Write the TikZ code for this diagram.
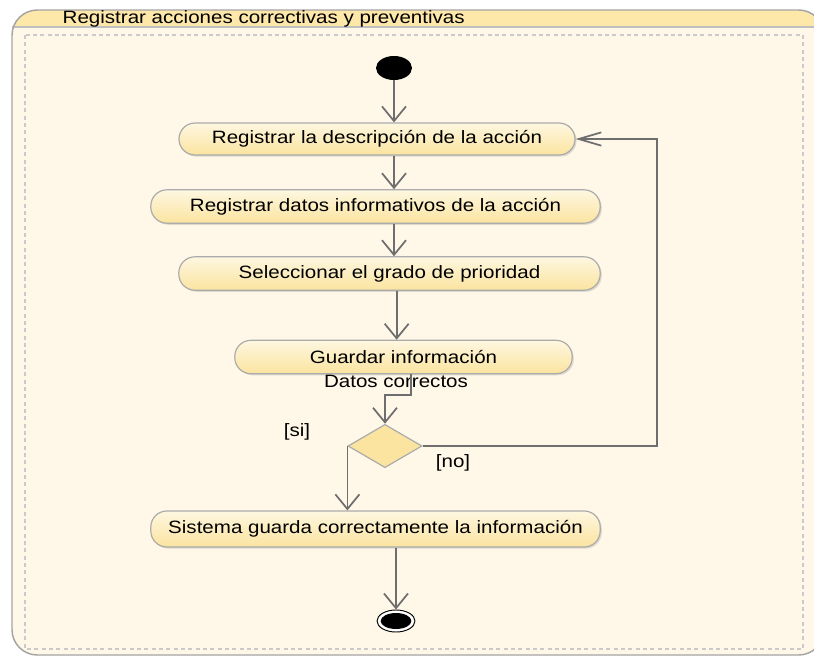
\documentclass[tikz,border=0pt]{standalone}
\usepackage{fontspec}
\setmainfont{Liberation Sans}[FakeStretch=1.15]
\usetikzlibrary{arrows.meta,shapes.geometric,shadows}

\definecolor{fondo}{HTML}{FFF8E8}
\definecolor{cabecera}{HTML}{FDE8AA}
\definecolor{marco}{HTML}{A4A4A4}
\definecolor{guiones}{HTML}{CACACA}
\definecolor{accArriba}{HTML}{FEF7E0}
\definecolor{accAbajo}{HTML}{FBE4A0}
\definecolor{borde}{HTML}{ABABAB}
\definecolor{linea}{HTML}{6E6E6E}

\begin{document}
\begin{tikzpicture}[x=0.75pt,y=-0.75pt,
 font=\fontsize{13.4pt}{16pt}\selectfont,
 accion/.style={rectangle, rounded corners=12pt, draw=borde, line width=0.9pt,
   top color=accArriba, bottom color=accAbajo, inner sep=0pt,
   drop shadow={shadow xshift=1.2pt, shadow yshift=-1.2pt, opacity=0.25}},
 flujo/.style={draw=linea, line width=1.3pt, -{Straight Barb[length=11pt,width=18pt]}},
 flujoH/.style={draw=linea, line width=1.3pt, -{Straight Barb[length=17pt,width=10pt]}}]
 \useasboundingbox (0,0) rectangle (814,657);
 % marco de la actividad
 \fill[fondo, rounded corners=19pt] (12,10) rectangle (824,655);
 \begin{scope}
  \clip (0,0) rectangle (814,27);
  \fill[cabecera, rounded corners=19pt] (12,10) rectangle (824,655);
 \end{scope}
 \draw[marco!70, line width=0.8pt] (12,27) -- (814,27);
 \draw[marco, line width=1.1pt, rounded corners=19pt] (12,10) rectangle (824,655);
 \node[anchor=west] (titulo) at (58,18.5) {Registrar acciones correctivas y preventivas};
 \draw[guiones, line width=0.8pt, dash pattern=on 3pt off 2.5pt] (25,35) rectangle (803,649);

 % nodos
 \node[ellipse, fill=black, minimum width=27pt, minimum height=18pt, inner sep=0pt] (inicio) at (394,68) {};
 \node[accion, minimum width=297pt, minimum height=24pt] (a1) at (377,139) {Registrar la descripción de la acción};
 \node[accion, minimum width=337pt, minimum height=25pt] (a2) at (375.5,206.5) {Registrar datos informativos de la acción};
 \node[accion, minimum width=316pt, minimum height=25pt] (a3) at (389.5,273.5) {Seleccionar el grado de prioridad};
 \node[accion, minimum width=253pt, minimum height=25pt] (a4) at (403.5,357) {Guardar información};
 \node[diamond, fill=accAbajo, draw=borde, line width=0.9pt, minimum width=55.5pt, minimum height=32.5pt, inner sep=0pt] (dec) at (385,446) {};
 \node[accion, minimum width=337pt, minimum height=27pt] (a5) at (375.5,529) {Sistema guarda correctamente la información};
 \node[ellipse, draw, line width=0.7pt, fill=white, minimum width=28.5pt, minimum height=16.5pt, inner sep=0pt] (fin) at (396,621) {};
 \node[ellipse, fill=black, minimum width=23pt, minimum height=12pt, inner sep=0pt] at (fin) {};
 \coordinate (vuelta) at (657,139);

 % textos de las transiciones
 \node (datos) at (396,381) {Datos correctos};
 \node (si) at (297,432) {[si]};
 \node (no) at (453,463) {[no]};

 % transiciones
 \draw[flujo] (inicio) -- (inicio |- a1.north);
 \draw[flujo] (a1.south -| inicio) -- (a2.north -| inicio);
 \draw[flujo] (a2.south -| inicio) -- (a3.north -| inicio);
 \draw[flujo] ([xshift=2pt]a3.south -| inicio) -- ([xshift=2pt]a4.north -| inicio);
 \draw[flujo] ([xshift=5.6pt]a4.south) -- ++(0,21) -| (dec.north);
 \draw[flujo] (dec.west) -- (dec.west |- a5.north);
 \draw[flujoH] (dec.east) -| (vuelta) -- (a1.east);
 \draw[flujo] (a5.south -| fin) -- (fin);
\end{tikzpicture}
\end{document}
